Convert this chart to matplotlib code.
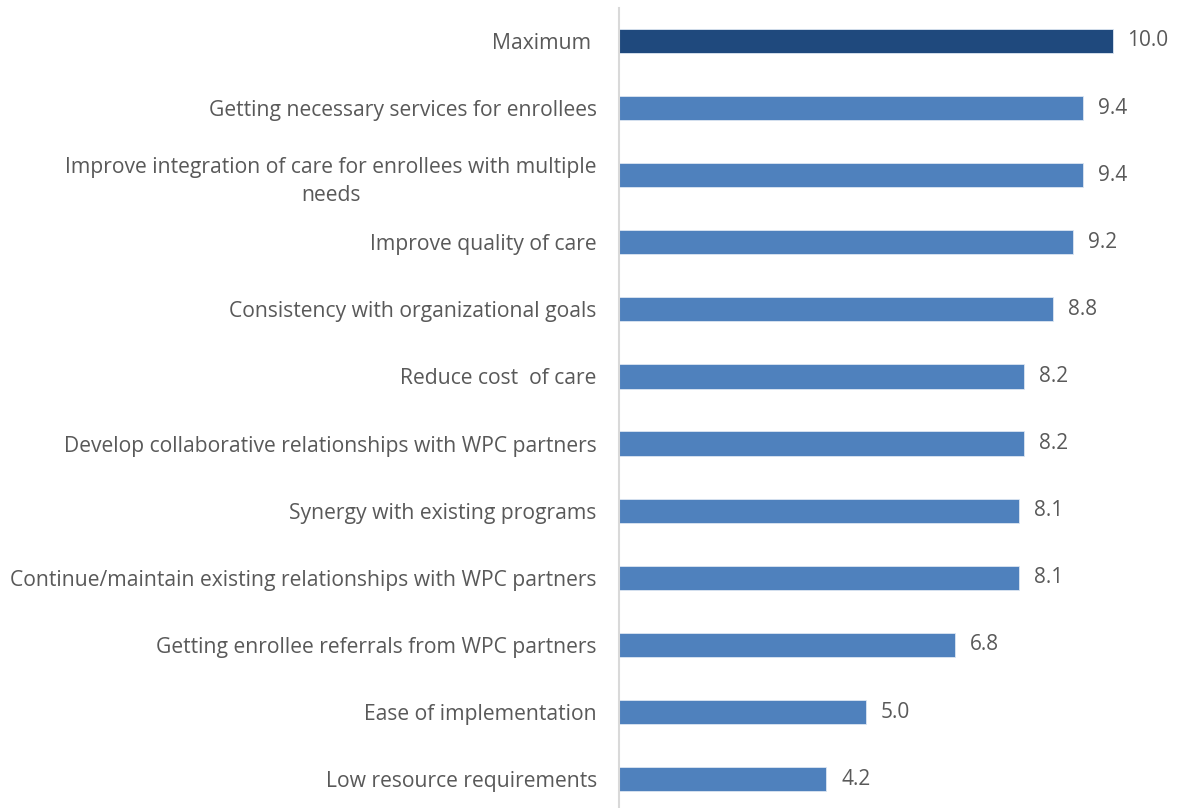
import matplotlib.pyplot as plt

# data, top to bottom
categories = [
    'Maximum ',
    'Getting necessary services for enrollees',
    'Improve integration of care for enrollees with multiple\nneeds',
    'Improve quality of care',
    'Consistency with organizational goals',
    'Reduce cost  of care',
    'Develop collaborative relationships with WPC partners',
    'Synergy with existing programs',
    'Continue/maintain existing relationships with WPC partners',
    'Getting enrollee referrals from WPC partners',
    'Ease of implementation',
    'Low resource requirements',
]
values = [10.0, 9.4, 9.4, 9.2, 8.8, 8.2, 8.2, 8.1, 8.1, 6.8, 5.0, 4.2]

plt.rcParams['font.family'] = ['Open Sans', 'DejaVu Sans']
text_color = '#595959'

fig = plt.figure(figsize=(11.78, 8.08), dpi=100)
ax = fig.add_axes([619 / 1178, 0.0, 543 / 1178, 800 / 808])

colors = ['#1F497D'] + ['#4F81BD'] * (len(values) - 1)
ypos = list(range(len(values)))
ax.barh(ypos, values, height=0.36, color=colors, edgecolor='#DCE6F2', linewidth=0.6)

for y, v in zip(ypos, values):
    ax.text(v + 0.3, y, f'{v:.1f}', va='center', ha='left', fontsize=15, color=text_color)

ax.set_yticks(ypos)
ax.set_yticklabels(categories, fontsize=15.2, color=text_color,
                   multialignment='center', linespacing=1.45)
ax.tick_params(axis='y', length=0, pad=16)
ax.set_xticks([])
ax.set_xlim(0, 11)
ax.set_ylim(11.43, -0.49)

for s in ['top', 'right', 'bottom']:
    ax.spines[s].set_visible(False)
ax.spines['left'].set_color('#D9D9D9')
ax.spines['left'].set_linewidth(1.5)

fig.savefig('out.png', dpi=100)
